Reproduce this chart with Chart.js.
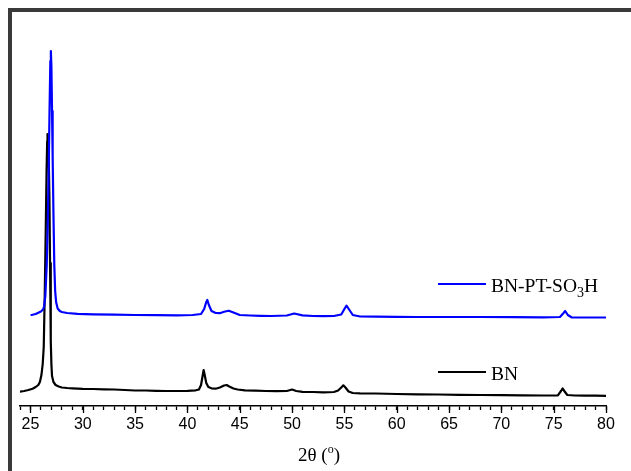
<!DOCTYPE html>
<html><head><meta charset="utf-8">
<script src="https://cdn.jsdelivr.net/npm/chart.js@4.4.1/dist/chart.umd.min.js"></script>
<style>html,body{margin:0;padding:0;background:#fff;overflow:hidden}canvas{display:block}</style>
</head><body>
<canvas id="c" width="631" height="471"></canvas>
<script>
// ---- data (2θ in degrees, intensity in arbitrary units) ----
const bnTheta = [24.0,24.4,24.8,25.2,25.5,25.75,25.9,26.05,26.17,26.27,26.36,26.46,26.54,26.6,26.63,26.68,26.75,26.81,26.87,26.94,27.0,27.06,27.2,27.4,27.7,28.0,28.5,29.0,30,31,32,33,34,35,36,37,38,39,40,40.8,41.1,41.3,41.45,41.55,41.65,41.8,42.0,42.3,42.7,43.1,43.5,43.75,44.0,44.4,44.8,45.5,46.5,47.5,48.5,49.5,50.0,50.4,51,52,53,54,54.4,54.7,54.9,55.1,55.4,55.8,56.5,58,60,62,64,66,68,70,72,74,75.4,75.7,75.85,76.05,76.3,77,78,79,80];
const bnIntensity = [143,150,160,173,190,210,240,310,420,593,1093,1760,2350,2650,2720,2650,2450,2100,1430,650,420,300,240,210,195,185,180,177,172,170,167,165,160,155,155,152,150,150,152,157,165,210,300,360,310,230,190,177,173,185,205,210,195,175,165,157,153,150,148,150,165,150,142,140,137,140,155,185,207,185,145,130,127,125,120,117,115,112,110,108,107,105,107,150,175,145,110,105,103,103,102];
const ptTheta = [25.1,25.5,25.8,26.0,26.2,26.3,26.42,26.55,26.65,26.75,26.83,26.9,26.95,27.0,27.06,27.12,27.2,27.28,27.36,27.45,27.6,27.8,28.0,28.5,29.5,31,33,35,37,39,40.5,41.3,41.6,41.8,41.9,42.05,42.3,42.7,43.1,43.5,43.95,44.4,45.0,46,47,48,49.5,50.2,51,52,53,54,54.7,55.0,55.2,55.45,55.8,56.5,58,60,62,65,68,71,74,75.6,75.9,76.1,76.35,76.7,78,80];
const ptIntensity = [910,920,935,945,965,995,1100,1400,1800,2430,3000,3450,3550,3400,2950,2500,1900,1400,1150,1040,975,950,940,930,922,917,913,910,908,907,910,920,970,1040,1060,1010,950,930,928,942,953,935,910,905,902,900,905,925,907,900,898,900,915,970,1003,965,910,895,893,892,890,890,890,888,887,890,925,950,910,887,885,885];
const seriesNames = ['BN-PT-SO3H', 'BN'];
const seriesColors = ['#0000ff', '#000000'];
const xMin = 24, xMax = 80, xMajorStep = 5, xMinorStep = 1;
const xTitle = '2θ';

const zip = (xs, ys) => xs.map((x, i) => ({x: x, y: ys[i]}));

const decor = {
  id: 'decor',
  beforeDraw(chart) {
    const ctx = chart.ctx;
    ctx.save();
    ctx.fillStyle = '#fff';
    ctx.fillRect(0, 0, chart.width, chart.height);
    ctx.fillStyle = '#3a3a3a';
    ctx.fillRect(8, 8, chart.width, 4);
    ctx.fillRect(8, 8, 4, chart.height);
    ctx.restore();
  },
  afterDraw(chart) {
    const ctx = chart.ctx;
    const xs = chart.scales.x;
    const bottom = chart.chartArea.bottom;
    ctx.save();
    // longer major ticks
    ctx.strokeStyle = '#000';
    ctx.lineWidth = 1.3;
    for (let v = xMin; v <= xMax; v += xMinorStep) {
      if (v % xMajorStep !== 0) continue;
      const px = Math.round(xs.getPixelForValue(v)) + 0.5;
      ctx.beginPath();
      ctx.moveTo(px, bottom);
      ctx.lineTo(px, bottom + 7);
      ctx.stroke();
    }
    // legend
    const serif = '"Liberation Serif", "Times New Roman", serif';
    const items = [
      {y: 284, color: seriesColors[0], main: ['BN-PT-SO', '3', 'H']},
      {y: 372, color: seriesColors[1], main: ['BN']}
    ];
    items.forEach(it => {
      ctx.strokeStyle = it.color;
      ctx.lineWidth = 2;
      ctx.beginPath();
      ctx.moveTo(438, it.y);
      ctx.lineTo(486, it.y);
      ctx.stroke();
      ctx.fillStyle = '#000';
      ctx.textBaseline = 'alphabetic';
      ctx.textAlign = 'left';
      let x = 491;
      const base = it.y + 8;
      it.main.forEach((t, i) => {
        if (i === 1) {
          ctx.font = '14px ' + serif;
          ctx.fillText(t, x, base + 5);
        } else {
          ctx.font = '19.5px ' + serif;
          ctx.fillText(t, x, base);
        }
        x += ctx.measureText(t).width;
      });
    });
    // axis title 2θ (°)
    const parts = [[xTitle + ' (', 19, 0], ['o', 12, -8], [')', 19, 0]];
    let w = 0;
    parts.forEach(p => { ctx.font = p[1] + 'px ' + serif; w += ctx.measureText(p[0]).width; });
    let tx = 319 - w / 2;
    parts.forEach(p => {
      ctx.font = p[1] + 'px ' + serif;
      ctx.fillText(p[0], tx, 461 + p[2]);
      tx += ctx.measureText(p[0]).width;
    });
    ctx.restore();
  }
};

new Chart(document.getElementById('c'), {
  type: 'line',
  data: {
    datasets: [
      {label: seriesNames[0], data: zip(ptTheta, ptIntensity), borderColor: seriesColors[0], borderWidth: 2.2, borderJoinStyle: 'round', borderCapStyle: 'round', pointRadius: 0, tension: 0, fill: false},
      {label: seriesNames[1], data: zip(bnTheta, bnIntensity), borderColor: seriesColors[1], borderWidth: 2.2, borderJoinStyle: 'round', borderCapStyle: 'round', pointRadius: 0, tension: 0, fill: false}
    ]
  },
  options: {
    responsive: false,
    animation: false,
    layout: {padding: {left: 20, right: 25, top: 16, bottom: 0}},
    plugins: {legend: {display: false}, tooltip: {enabled: false}},
    scales: {
      x: {
        type: 'linear', min: xMin, max: xMax,
        afterFit(s) { s.height = 65; },
        border: {display: true, color: '#000', width: 1.5},
        grid: {drawOnChartArea: false, drawTicks: true, tickLength: 4, tickColor: '#000', tickWidth: 1.3},
        ticks: {
          stepSize: xMinorStep, autoSkip: false, maxRotation: 0, padding: 5,
          color: '#000', font: {family: '"Liberation Sans", Arial, sans-serif', size: 16},
          callback: v => (v % xMajorStep === 0 ? String(v) : '')
        }
      },
      y: {display: false, min: 0, max: 3900}
    }
  },
  plugins: [decor]
});
</script>
</body></html>
